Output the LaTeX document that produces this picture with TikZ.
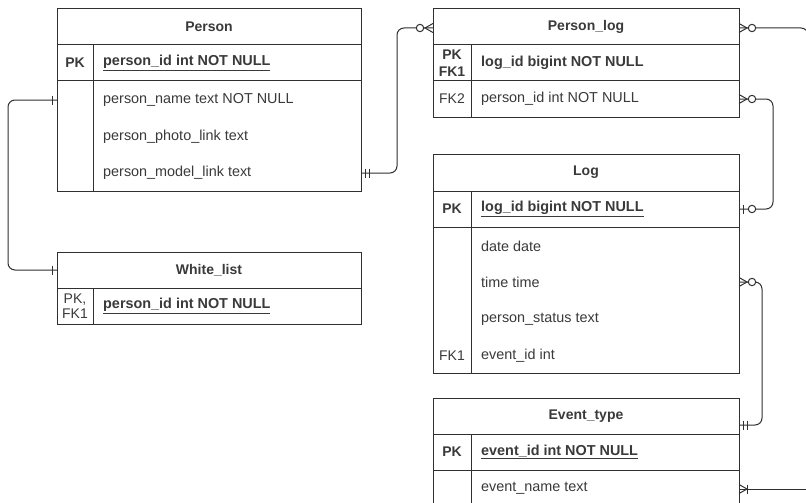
\documentclass[tikz,border=0pt]{standalone}
\usepackage{fontspec}
\setmainfont{Liberation Sans}
\definecolor{ln}{HTML}{303030}
\definecolor{tx}{HTML}{3a3a3a}
\newcommand\mkmany{\draw[mk] (0,-4.5) -- (8,0) -- (0,4.5);}
\newcommand\mkzero[1]{\draw[mk,fill=white] (#1,0) circle[radius=3.7pt];}
\newcommand\mkbar[1]{\draw[mk] (#1,-4.5) -- (#1,4.5);}
\begin{document}
\begin{tikzpicture}[x=1pt,y=-1pt,
  tbl/.style={draw=ln, line width=1pt, rectangle, inner sep=0pt, anchor=north west},
  sep/.style={draw=ln, line width=1pt},
  hdr/.style={font=\fontsize{14}{16}\selectfont\bfseries, text=tx, inner sep=0pt},
  fld/.style={font=\fontsize{14.4}{16}\selectfont, text=tx, anchor=west, inner sep=0pt},
  keyf/.style={font=\fontsize{14}{16}\selectfont, text=tx, align=center, inner sep=0pt},
  conn/.style={draw=ln, line width=1pt, rounded corners=7pt},
  mk/.style={draw=ln, line width=1pt}]
\fill[white] (0,0) rectangle (806,503);
\useasboundingbox (0,0) rectangle (806,503);
\clip (0,0) rectangle (806,503);

% ---------- Person ----------
\node[tbl, minimum width=304pt, minimum height=183pt] (person) at (57,8) {};
\draw[sep] (57,45) -- (361,45);
\draw[sep] (57,81) -- (361,81);
\draw[sep] (93,45) -- (93,191);
\node[hdr] (personH) at (209,26.5) {Person};
\node[keyf,font=\fontsize{14}{16}\selectfont\bfseries] (personPK) at (75,63) {PK};
\node[fld,font=\fontsize{14.4}{16}\selectfont\bfseries] (personId) at (103,63) {\underline{person\_id int NOT NULL}};
\node[fld] (personName) at (103,100) {person\_name text NOT NULL};
\node[fld] (personPhoto) at (103,137) {person\_photo\_link text};
\node[fld] (personModel) at (103,173) {person\_model\_link text};

% ---------- White_list ----------
\node[tbl, minimum width=304pt, minimum height=72pt] (white) at (57,252) {};
\draw[sep] (57,288) -- (361,288);
\draw[sep] (93,288) -- (93,324);
\node[hdr] (whiteH) at (209,270) {White\_list};
\node[keyf,font=\fontsize{14}{15.5}\selectfont] (whitePK) at (75,306) {PK,\\FK1};
\node[fld,font=\fontsize{14.4}{16}\selectfont\bfseries] (whiteId) at (103,306) {\underline{person\_id int NOT NULL}};

% ---------- Person_log ----------
\node[tbl, minimum width=306pt, minimum height=109pt] (plog) at (433,8) {};
\draw[sep] (433,45) -- (739,45);
\draw[sep] (433,81) -- (739,81);
\draw[sep] (471,45) -- (471,117);
\node[hdr] (plogH) at (586,26.5) {Person\_log};
\node[keyf,font=\fontsize{14}{16.5}\selectfont\bfseries] (plogPK) at (452,63) {PK\\FK1};
\node[fld,font=\fontsize{14.4}{16}\selectfont\bfseries] (plogId) at (481,63) {log\_id bigint NOT NULL};
\node[keyf] (plogFK) at (452,99) {FK2};
\node[fld] (plogPerson) at (481,99) {person\_id int NOT NULL};

% ---------- Log ----------
\node[tbl, minimum width=306pt, minimum height=219pt] (log) at (433,154) {};
\draw[sep] (433,191) -- (739,191);
\draw[sep] (433,227) -- (739,227);
\draw[sep] (471,191) -- (471,373);
\node[hdr] (logH) at (586,172.5) {Log};
\node[keyf,font=\fontsize{14}{16}\selectfont\bfseries] (logPK) at (452,209) {PK};
\node[fld,font=\fontsize{14.4}{16}\selectfont\bfseries] (logId) at (481,209) {\underline{log\_id bigint NOT NULL}};
\node[fld] (logDate) at (481,246) {date date};
\node[fld] (logTime) at (481,282) {time time};
\node[fld] (logStatus) at (481,319) {person\_status text};
\node[keyf] (logFK) at (452,356) {FK1};
\node[fld] (logEvent) at (481,356) {event\_id int};

% ---------- Event_type ----------
\node[tbl, minimum width=306pt, minimum height=120pt] (event) at (433,398) {};
\draw[sep] (433,434) -- (739,434);
\draw[sep] (433,470) -- (739,470);
\draw[sep] (471,434) -- (471,518);
\node[hdr] (eventH) at (586,416) {Event\_type};
\node[keyf,font=\fontsize{14}{16}\selectfont\bfseries] (eventPK) at (452,452) {PK};
\node[fld,font=\fontsize{14.4}{16}\selectfont\bfseries] (eventId) at (481,452) {\underline{event\_id int NOT NULL}};
\node[fld] (eventName) at (481,488) {event\_name text};

% ---------- anchor points ----------
\coordinate (aPersonName) at (57,100);
\coordinate (aWhite) at (57,270);
\coordinate (aPersonModel) at (361,173);
\coordinate (aPlogL) at (433,28);
\coordinate (aPlogR) at (739,28);
\coordinate (aOffTop) at (808,28);
\coordinate (aPlogFK) at (739,99);
\coordinate (aLogPK) at (739,209);
\coordinate (aLogTime) at (739,282);
\coordinate (aEvent) at (739,425);
\coordinate (aEventName) at (739,489);
\coordinate (aOffBot) at (806,489);

% ---------- connectors ----------
\draw[conn] (aPersonName) -| (8,185) |- (aWhite);
\draw[conn] (aPersonModel) -| (397,100) |- (aPlogL);
\draw[conn] (aPlogR) -- (aOffTop) -- (808,80);
\draw[conn] (aPlogFK) -| (773,150) |- (aLogPK);
\draw[conn] (aLogTime) -| (762,350) |- (aEvent);
\draw[conn] (aEventName) -- (aOffBot);

% ---------- markers ----------
\begin{scope}[shift={(aPersonName)}, xscale=-1] \mkbar{5} \end{scope}
\begin{scope}[shift={(aWhite)}, xscale=-1] \mkbar{5} \end{scope}
\begin{scope}[shift={(aPersonModel)}] \mkbar{4} \mkbar{8} \end{scope}
\begin{scope}[shift={(aPlogL)}, xscale=-1] \mkmany \mkzero{13} \end{scope}
\begin{scope}[shift={(aPlogR)}] \mkmany \mkzero{13} \end{scope}
\begin{scope}[shift={(aPlogFK)}] \mkmany \mkzero{13} \end{scope}
\begin{scope}[shift={(aLogPK)}] \mkbar{4} \mkzero{13} \end{scope}
\begin{scope}[shift={(aLogTime)}] \mkmany \mkzero{13} \end{scope}
\begin{scope}[shift={(aEvent)}] \mkbar{4} \mkbar{8} \end{scope}
\begin{scope}[shift={(aEventName)}] \mkmany \mkbar{8} \end{scope}
\end{tikzpicture}
\end{document}
